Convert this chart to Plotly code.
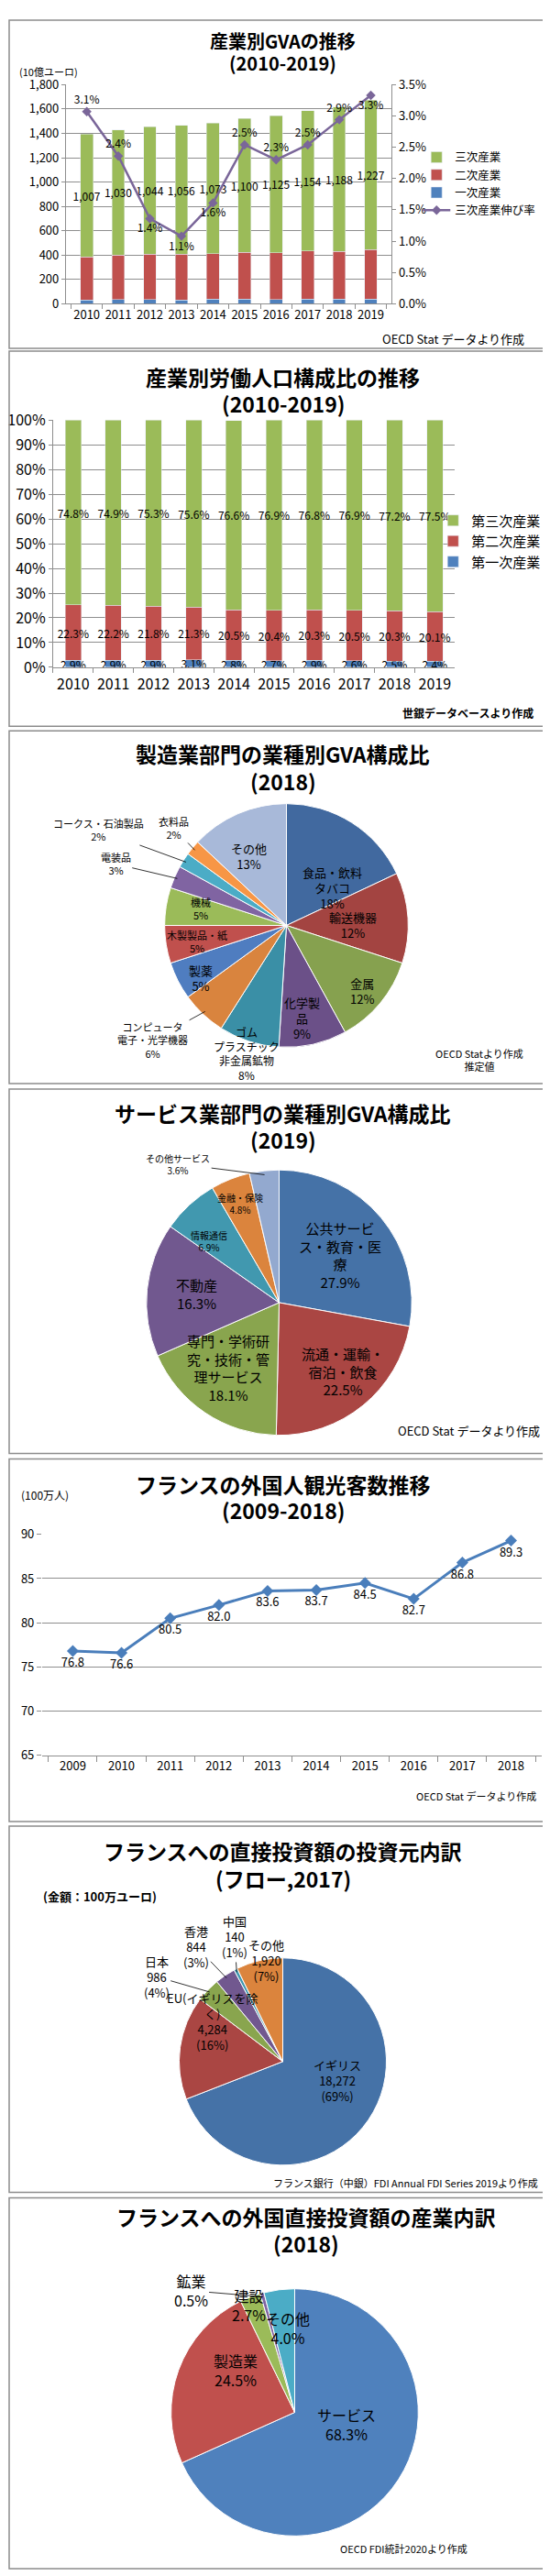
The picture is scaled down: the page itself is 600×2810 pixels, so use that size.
import math
import plotly.graph_objects as go

W, H = 600, 2810
FONT = "Noto Sans CJK JP"

# ---- data ----
gva_years = ["2010", "2011", "2012", "2013", "2014", "2015", "2016", "2017", "2018", "2019"]
gva_primary = [31, 36, 36, 32, 37, 37, 34, 37, 37, 38]
gva_secondary = [355, 364, 373, 376, 376, 386, 386, 395, 393, 408]
gva_tertiary = [1007, 1030, 1044, 1056, 1073, 1100, 1125, 1154, 1188, 1227]
tertiary_growth = [3.07, 2.36, 1.36, 1.08, 1.61, 2.54, 2.30, 2.54, 2.94, 3.33]

labor_years = gva_years
labor_primary = [2.9, 2.9, 2.9, 3.1, 2.8, 2.7, 2.9, 2.6, 2.5, 2.4]
labor_secondary = [22.3, 22.2, 21.8, 21.3, 20.5, 20.4, 20.3, 20.5, 20.3, 20.1]
labor_tertiary = [74.8, 74.9, 75.3, 75.6, 76.6, 76.9, 76.8, 76.9, 77.2, 77.5]

mfg_sectors = ["食品・飲料<br>タバコ", "輸送機器", "金属", "化学製<br>品", "ゴム<br>プラスチック<br>非金属鉱物",
               "コンピュータ<br>電子・光学機器", "製薬", "木製製品・紙", "機械", "電装品",
               "コークス・石油製品", "衣料品", "その他"]
mfg_share = [18, 12, 12, 9, 8, 6, 5, 5, 5, 3, 2, 2, 13]

svc_sectors = ["公共サービ<br>ス・教育・医<br>療", "流通・運輸・<br>宿泊・飲食", "専門・学術研<br>究・技術・管<br>理サービス",
               "不動産", "情報通信", "金融・保険", "その他サービス"]
svc_share = [27.9, 22.5, 18.1, 16.3, 6.9, 4.8, 3.6]

tourist_years = ["2009", "2010", "2011", "2012", "2013", "2014", "2015", "2016", "2017", "2018"]
tourists = [76.8, 76.6, 80.5, 82.0, 83.6, 83.7, 84.5, 82.7, 86.8, 89.3]

fdi_sources = ["イギリス", "EU(イギリスを除<br>く)", "日本", "香港", "中国", "その他"]
fdi_amount = [18272, 4284, 986, 844, 140, 1920]

fdi_industries = ["サービス", "製造業", "建設", "鉱業", "その他"]
fdi_share = [68.3, 24.5, 2.7, 0.5, 4.0]


def xp(px):
    return px / W


def yp(py):
    return 1 - py / H


fig = go.Figure()
notes = []
shapes = []


def note(text, px, py, size, xanchor="center", bold=False, yanchor="middle"):
    if bold:
        text = f"<b>{text}</b>"
    notes.append(dict(text=text, x=xp(px), y=yp(py), xref="paper", yref="paper",
                      xanchor=xanchor, yanchor=yanchor, showarrow=False,
                      font=dict(family=FONT, size=size, color="black")))


# panel frames
for top, bottom in [(1, 362), (365, 778), (783, 1171), (1177, 1578), (1584, 1983), (1988, 2391), (2397, 2805)]:
    shapes.append(dict(type="rect", xref="paper", yref="paper", x0=xp(1), x1=xp(598),
                       y0=yp(bottom), y1=yp(top), line=dict(color="#8C8C8C", width=1.5)))

# ---- panel 1: GVA by sector ----
fig.add_trace(go.Bar(x=gva_years, y=gva_primary, name="一次産業", marker_color="#4F81BD",
                     xaxis="x", yaxis="y", legend="legend", legendrank=3))
fig.add_trace(go.Bar(x=gva_years, y=gva_secondary, name="二次産業", marker_color="#C0504D",
                     xaxis="x", yaxis="y", legend="legend", legendrank=2))
fig.add_trace(go.Bar(x=gva_years, y=gva_tertiary, name="三次産業", marker_color="#9BBB59",
                     xaxis="x", yaxis="y", legend="legend", legendrank=1,
                     text=[f"{v:,}" for v in gva_tertiary], textposition="inside",
                     insidetextanchor="middle", textangle=0, constraintext="none",
                     textfont=dict(family=FONT, size=12, color="black")))
growth_pos = ["top center", "top center", "bottom center", "bottom center", "bottom center",
              "top center", "top center", "top center", "top center", "bottom center"]
fig.add_trace(go.Scatter(x=gva_years, y=tertiary_growth, name="三次産業伸び率", xaxis="x", yaxis="y2",
                         legend="legend", legendrank=4, mode="lines+markers+text",
                         line=dict(color="#7A6699", width=2.5),
                         marker=dict(symbol="diamond", size=8, color="#7A6699"),
                         text=[f"{g:.1f}%" for g in tertiary_growth], textposition=growth_pos,
                         textfont=dict(family=FONT, size=12, color="black")))
note("<b>産業別GVAの推移</b>", 300, 24, 20)
note("<b>(2010-2019)</b>", 300, 48, 20)
note("(10億ユーロ)", 10, 57, 11, xanchor="left")
note("OECD Stat データより作成", 566, 352, 13, xanchor="right")

# ---- panel 2: labor composition ----
for vals, name, color, rank in [(labor_primary, "第一次産業", "#4F81BD", 3),
                                (labor_secondary, "第二次産業", "#C0504D", 2),
                                (labor_tertiary, "第三次産業", "#9BBB59", 1)]:
    fig.add_trace(go.Bar(x=labor_years, y=vals, name=name, marker_color=color,
                         xaxis="x2", yaxis="y3", legend="legend2", legendrank=rank,
                         text=[f"{v:.1f}%" for v in vals], textposition="inside",
                         insidetextanchor="middle", textangle=0, constraintext="none",
                         textfont=dict(family=FONT, size=12, color="black")))
note("<b>産業別労働人口構成比の推移</b>", 300, 393, 23)
note("<b>(2010-2019)</b>", 300, 423, 23)
note("世銀データベースより作成", 576, 763, 12, xanchor="right", bold=True)


# ---- pie helper ----
def pie(values, colors, cx, cy, r):
    fig.add_trace(go.Pie(values=values, labels=[str(i) for i in range(len(values))], sort=False,
                         direction="clockwise", rotation=0, textinfo="none", showlegend=False,
                         hoverinfo="value", marker=dict(colors=colors, line=dict(color="white", width=1)),
                         domain=dict(x=[xp(cx - r), xp(cx + r)], y=[yp(cy + r), yp(cy - r)])))


def pie_labels(texts, values, cx, cy, r, place, sizes, leaders):
    total = sum(values)
    cum = 0
    for i, v in enumerate(values):
        mid = (cum + v / 2) / total * 360
        cum += v
        f, off = place[i]
        a = math.radians(mid + off)
        lx = cx + f * r * math.sin(a)
        ly = cy - f * r * math.cos(a)
        font = dict(family=FONT, size=sizes[i], color="black")
        if leaders[i]:
            m = math.radians(mid)
            hx = cx + 0.97 * r * math.sin(m)
            hy = cy - 0.97 * r * math.cos(m)
            notes.append(dict(text=texts[i], x=xp(hx), y=yp(hy), xref="paper", yref="paper",
                              ax=lx - hx, ay=ly - hy, showarrow=True, arrowhead=0, arrowwidth=0.8,
                              arrowcolor="black", standoff=0, font=font))
        else:
            notes.append(dict(text=texts[i], x=xp(lx), y=yp(ly), xref="paper", yref="paper",
                              showarrow=False, font=font))


# ---- panel 3: manufacturing GVA ----
mfg_colors = ["#41699F", "#A34441", "#86A14F", "#6B5088", "#3A8FA6", "#D9843E", "#4F7DC0",
              "#C0504D", "#9BBB59", "#8064A2", "#4BACC6", "#F79646", "#A8B9D9"]
pie(mfg_share, mfg_colors, 304, 997, 134)
pie_labels([f"{n}<br>{v}%" for n, v in zip(mfg_sectors, mfg_share)], mfg_share, 304, 997, 134,
           [(0.64, 3), (0.75, 3.6), (0.82, 1.4), (0.77, 3), (1.1, -1), (1.44, 6), (0.92, -1),
            (0.74, -1), (0.81, 1), (1.48, -3.5), (1.72, -5.4), (1.22, 1.4), (0.78, 0)],
           [13, 13, 13, 13, 12, 11, 13, 11, 11, 11, 11, 11, 13],
           [False, False, False, False, False, True, False, False, False, True, True, True, False])
note("<b>製造業部門の業種別GVA構成比</b>", 300, 808, 23)
note("<b>(2018)</b>", 300, 838, 23)
note("OECD Statより作成<br>推定値", 465, 1145, 11, xanchor="left")

# ---- panel 4: services GVA ----
svc_colors = ["#4572A7", "#AA4643", "#89A54E", "#71588F", "#4198AF", "#DB843D", "#93A9CF"]
pie(svc_share, svc_colors, 296, 1412, 146)
pie_labels([f"{n}<br>{v:.1f}%" for n, v in zip(svc_sectors, svc_share)], svc_share, 296, 1412, 146,
           [(0.58, 2), (0.70, -3.4), (0.62, 4), (0.79, -1), (0.70, -5.7), (0.80, 0), (1.29, -29.4)],
           [15, 15, 15, 15, 10, 10, 10],
           [False, False, False, False, False, False, True])
note("<b>サービス業部門の業種別GVA構成比</b>", 300, 1203, 23)
note("<b>(2019)</b>", 300, 1233, 23)
note("OECD Stat データより作成", 583, 1553, 13, xanchor="right")

# ---- panel 5: foreign tourists ----
fig.add_trace(go.Scatter(x=tourist_years, y=tourists, xaxis="x3", yaxis="y4", showlegend=False,
                         mode="lines+markers+text", line=dict(color="#4A7EBB", width=3),
                         marker=dict(symbol="diamond", size=10, color="#4A7EBB"),
                         text=[f"{v:.1f}" for v in tourists], textposition="bottom center",
                         textfont=dict(family=FONT, size=13, color="black")))
note("<b>フランスの外国人観光客数推移</b>", 300, 1612, 23)
note("<b>(2009-2018)</b>", 300, 1640, 23)
note("(100万人)", 12, 1623, 12, xanchor="left")
note("OECD Stat データより作成", 579, 1955, 11, xanchor="right")

# ---- panel 6: FDI by source ----
fdi_total = sum(fdi_amount)
fdi_colors = ["#4572A7", "#AA4643", "#89A54E", "#71588F", "#4198AF", "#DB843D"]
pie(fdi_amount, fdi_colors, 300, 2247, 114)
pie_labels([f"{n}<br>{v:,}<br>({round(v / fdi_total * 100)}%)" for n, v in zip(fdi_sources, fdi_amount)],
           fdi_amount, 300, 2247, 114,
           [(0.68, 5.6), (0.68, -3), (1.46, -9.7), (1.38, -3), (1.29, 6), (0.74, 0.7)],
           [13, 13, 13, 13, 13, 13],
           [False, False, True, True, True, False])
note("<b>フランスへの直接投資額の投資元内訳</b>", 300, 2015, 23)
note("<b>(フロー,2017)</b>", 300, 2045, 23)
note("(金額：100万ユーロ)", 36, 2065, 13, xanchor="left", bold=True)
note("フランス銀行（中銀）FDI Annual FDI Series 2019より作成", 581, 2380, 11, xanchor="right")

# ---- panel 7: FDI by industry ----
ind_colors = ["#4F81BD", "#C0504D", "#9BBB59", "#8064A2", "#4BACC6"]
pie(fdi_share, ind_colors, 313, 2633, 136)
pie_labels([f"{n}<br>{v:.1f}%" for n, v in zip(fdi_industries, fdi_share)], fdi_share, 313, 2633, 136,
           [(0.50, 1), (0.50, -1), (0.78, -7), (1.29, -25), (0.50, 1)],
           [16, 16, 16, 16, 16],
           [False, False, False, True, False])
note("<b>フランスへの外国直接投資額の産業内訳</b>", 326, 2418, 23)
note("<b>(2018)</b>", 326, 2447, 23)
note("OECD FDI統計2020より作成", 504, 2783, 11, xanchor="right")

# ---- axes ----
grid = "#8E8E8E"
tick13 = dict(family=FONT, size=13, color="black")
tick16 = dict(family=FONT, size=16, color="black")

fig.update_layout(
    width=W, height=H, autosize=False, margin=dict(l=0, r=0, t=0, b=0),
    paper_bgcolor="white", plot_bgcolor="white",
    font=dict(family=FONT, color="black"),
    barmode="stack", bargap=0.6,
    xaxis=dict(domain=[xp(63), xp(419)], anchor="y", type="category", showline=True, linecolor=grid,
               ticks="outside", tickson="boundaries", ticklen=5, tickcolor=grid, showgrid=False,
               tickfont=tick13, tickangle=0),
    yaxis=dict(domain=[yp(313), yp(72)], anchor="x", range=[0, 1800], dtick=200, tickformat=",d",
               showline=True, linecolor=grid, ticks="outside", ticklen=4, tickcolor=grid,
               gridcolor=grid, zeroline=False, tickfont=tick13),
    yaxis2=dict(overlaying="y", side="right", anchor="x", range=[0, 3.5], dtick=0.5, tickformat=".1f",
                ticksuffix="%", showline=True, linecolor=grid, ticks="outside", ticklen=4,
                tickcolor=grid, showgrid=False, zeroline=False, tickfont=tick13),
    xaxis2=dict(domain=[xp(49), xp(488)], anchor="y3", type="category", showline=True, linecolor=grid,
                ticks="outside", tickson="boundaries", ticklen=5, tickcolor=grid, showgrid=False,
                tickfont=tick16, ticklabelstandoff=4, tickangle=0),
    yaxis3=dict(domain=[yp(713), yp(441)], anchor="x2", range=[0, 100], dtick=10, ticksuffix="%",
                showline=True, linecolor=grid, ticks="outside", ticklen=4, tickcolor=grid,
                gridcolor=grid, zeroline=False, tickfont=tick16),
    xaxis3=dict(domain=[xp(37), xp(583)], anchor="y4", type="category", showline=True, linecolor=grid,
                ticks="outside", tickson="boundaries", ticklen=6, tickcolor=grid, showgrid=False,
                tickfont=tick13, tickangle=0),
    yaxis4=dict(domain=[yp(1910), yp(1667)], anchor="x3", range=[65, 90], dtick=5, showline=False,
                ticks="outside", ticklen=5, tickcolor=grid, gridcolor=grid, zeroline=False,
                tickfont=tick13),
    legend=dict(x=xp(448), y=yp(137), xanchor="left", yanchor="top", bgcolor="rgba(0,0,0,0)",
                traceorder="normal", font=dict(family=FONT, size=12.5, color="black")),
    legend2=dict(x=xp(466), y=yp(535), xanchor="left", yanchor="top", bgcolor="rgba(0,0,0,0)",
                 traceorder="normal", font=dict(family=FONT, size=15, color="black")),
    annotations=notes,
    shapes=shapes,
)

fig.write_html("out.html")
